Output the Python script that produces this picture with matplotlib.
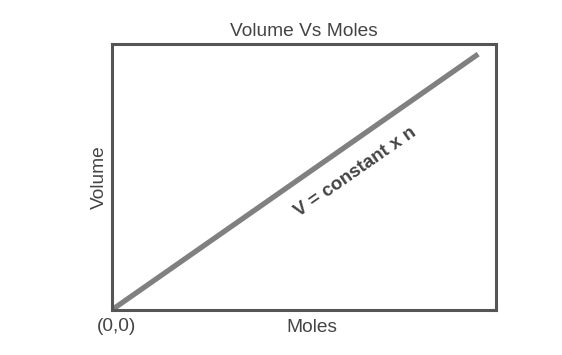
import matplotlib
matplotlib.use("Agg")
import matplotlib.pyplot as plt

plt.rcParams['font.family'] = ['Liberation Sans', 'DejaVu Sans']

moles = [0.0, 0.953]
volume = [0.0, 0.962]
title = "Volume Vs Moles"
xlabel = "Moles"
ylabel = "Volume"
origin_label = "(0,0)"
line_label = "V = constant x n"

fig = plt.figure(figsize=(5.62, 3.55), dpi=100)
ax = fig.add_axes([0.199, 0.127, 0.684, 0.749])
ax.plot(moles, volume, color='#808080', lw=3.8, solid_capstyle='butt')
ax.set_xlim(0, 1)
ax.set_ylim(0, 1)
ax.set_xticks([])
ax.set_yticks([])
for s in ax.spines.values():
    s.set_color('#555555')
    s.set_linewidth(2.2)
ax.set_title(title, fontsize=13.8, color='#444444', pad=6)
ax.set_xlabel(xlabel, fontsize=13.8, color='#444444', labelpad=5)
ax.xaxis.set_label_coords(0.52, -0.035)
ax.xaxis.label.set_va('top')
ax.set_ylabel(ylabel, fontsize=13.8, color='#444444', labelpad=3)
ax.text(0.012, -0.03, origin_label, transform=ax.transAxes, ha='center', va='top',
        fontsize=13.8, color='#444444')
ax.text(0.635, 0.52, line_label, transform=ax.transAxes, ha='center', va='center',
        rotation=34.9, rotation_mode='anchor', fontsize=13.5, fontweight='bold', color='#444444')
fig.savefig("out.png", dpi=100)
